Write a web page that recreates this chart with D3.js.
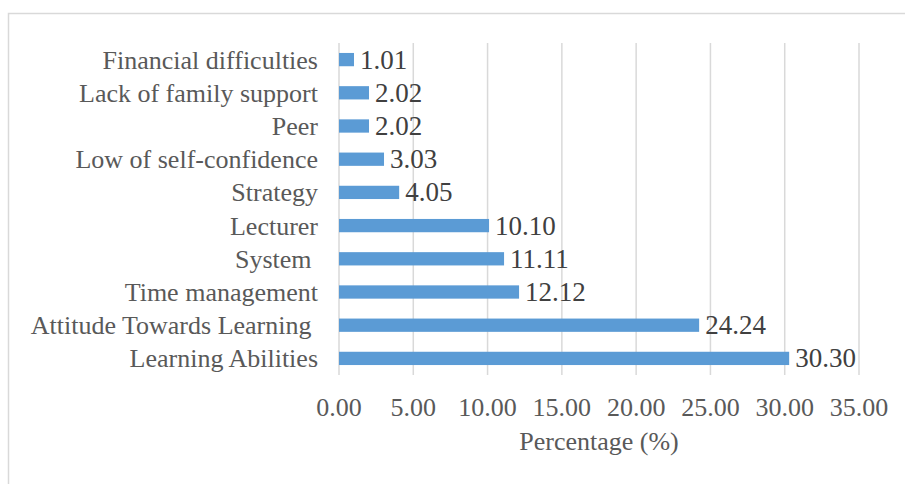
<!DOCTYPE html>
<html>
<head>
<meta charset="utf-8">
<script src="https://cdn.jsdelivr.net/npm/d3@7"></script>
<style>
  body { margin: 0; background: #fff; }
  text { font-family: "Liberation Serif", "Times New Roman", serif; white-space: pre; }
</style>
</head>
<body>
<svg id="chart" width="905" height="484"></svg>
<script>
// data, bottom to top as drawn
var categories = ["Learning Abilities", "Attitude Towards Learning ", "Time management", "System ",
  "Lecturer", "Strategy", "Low of self-confidence", "Peer", "Lack of family support", "Financial difficulties"];
var values = [30.30, 24.24, 12.12, 11.11, 10.10, 4.05, 3.03, 2.02, 2.02, 1.01];
var tickValues = [0, 5, 10, 15, 20, 25, 30, 35];

var svg = d3.select("#chart");
var plotLeft = 339, plotRight = 859, plotTop = 43, plotBottom = 375;

// chart frame
svg.append("rect")
  .attr("x", 8.5).attr("y", 13.5)
  .attr("width", 940).attr("height", 520)
  .attr("fill", "none")
  .attr("stroke", "#d9d9d9")
  .attr("stroke-width", 1.5);

var x = d3.scaleLinear().domain([0, 35]).range([plotLeft, plotRight]);
var y = d3.scaleBand()
  .domain(categories.slice().reverse())
  .range([plotTop, plotBottom])
  .paddingInner(0.6)
  .paddingOuter(0.3);

// gridlines
svg.append("g")
  .selectAll("line")
  .data(tickValues)
  .enter()
  .append("line")
  .attr("x1", function (d) { return x(d); })
  .attr("x2", function (d) { return x(d); })
  .attr("y1", plotTop)
  .attr("y2", plotBottom)
  .attr("stroke", "#d9d9d9")
  .attr("stroke-width", 1.5);

// x tick labels
svg.append("g")
  .selectAll("text")
  .data(tickValues)
  .enter()
  .append("text")
  .text(function (d) { return d.toFixed(2); })
  .attr("x", function (d) { return x(d); })
  .attr("y", 416)
  .attr("text-anchor", "middle")
  .attr("font-size", "26px")
  .attr("fill", "#595959");

// bars
var rows = categories.map(function (c, i) { return { name: c, value: values[i] }; });

svg.append("g")
  .selectAll("rect")
  .data(rows)
  .enter()
  .append("rect")
  .attr("x", x(0))
  .attr("y", function (d) { return y(d.name); })
  .attr("width", function (d) { return x(d.value) - x(0); })
  .attr("height", y.bandwidth())
  .attr("fill", "#5b9bd5");

// value labels
svg.append("g")
  .selectAll("text")
  .data(rows)
  .enter()
  .append("text")
  .text(function (d) { return d.value.toFixed(2); })
  .attr("x", function (d) { return x(d.value) + 6; })
  .attr("y", function (d) { return y(d.name) + y.bandwidth() / 2 + 9; })
  .attr("font-size", "27px")
  .attr("fill", "#404040");

// category labels
svg.append("g")
  .selectAll("text")
  .data(rows)
  .enter()
  .append("text")
  .text(function (d) { return d.name; })
  .attr("x", 318)
  .attr("y", function (d) { return y(d.name) + y.bandwidth() / 2 + 9; })
  .attr("text-anchor", "end")
  .attr("font-size", "26px")
  .attr("fill", "#595959");

// axis title
svg.append("text")
  .text("Percentage (%)")
  .attr("x", (plotLeft + plotRight) / 2)
  .attr("y", 450)
  .attr("text-anchor", "middle")
  .attr("font-size", "26px")
  .attr("fill", "#595959");
</script>
</body>
</html>
